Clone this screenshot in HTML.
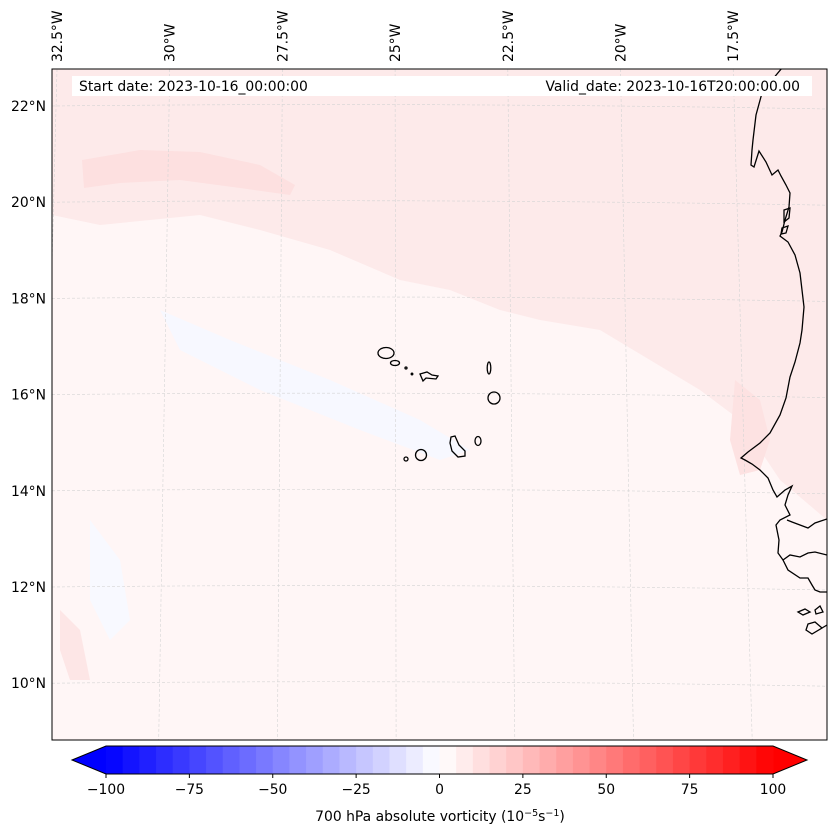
<!DOCTYPE html>
<html><head><meta charset="utf-8"><style>
body{margin:0;background:#fff;}
svg{display:block;font-family:"DejaVu Sans","Liberation Sans",sans-serif;}
</style></head><body>
<svg id="chart" width="837" height="839" viewBox="0 0 837 839" xmlns="http://www.w3.org/2000/svg">
<defs><clipPath id="mapclip"><rect x="52" y="69" width="775" height="671"/></clipPath></defs>
<g clip-path="url(#mapclip)">
  <rect x="52" y="69" width="775" height="671" fill="#fff6f6"/>
  <path fill="#fdeaea" d="M52,69 L827,69 L827,520 L780,480 L740,420 L700,390 L650,360 L600,330 L540,320 L500,310 L450,290 L400,280 L330,250 L260,230 L200,215 L150,220 L100,225 L52,215 Z"/>
  <path fill="#fff6f6" d="M170,225 L260,235 L330,260 L380,285 L420,300 L400,320 L330,300 L260,270 L200,255 L150,245 Z"/>
  <path fill="#fde0e0" d="M82,160 L140,150 L200,152 L260,165 L295,185 L290,195 L240,188 L180,180 L120,183 L84,188 Z"/>
  <path fill="#fde2e2" d="M735,380 L760,400 L770,440 L760,470 L740,475 L730,440 Z"/>
  <path fill="#f7f8ff" d="M160,310 L230,340 L330,380 L420,420 L470,450 L440,460 L360,430 L260,390 L180,350 Z"/>
  <path fill="#f8f9ff" d="M90,520 L120,560 L130,620 L110,640 L90,600 Z"/>
  <path fill="#fde6e6" d="M60,610 L80,630 L90,680 L70,680 L60,650 Z"/>
  <g id="grid" stroke="#d4d4d4" stroke-width="0.6" stroke-dasharray="3,2" fill="none"></g>
  <g stroke="#000" stroke-width="1.3" fill="none">
    <path d="M782,68 L772,80 L762,93 L756,115 L753,140 L752,150 L751,165 L754,167 L759,151 L766,162 L772,175 L778,170 L781,176 L786,185 L790,193 L789,207 L785,220 L782,232 L780,236 L788,242 L795,255 L800,273 L804,307 L802,330 L800,343 L795,362 L790,377 L786,398 L780,415 L770,433 L760,443 L748,452 L741,458 L745,460 L752,464 L760,470 L768,478 L773,490 L777,497 L785,490 L792,486 L788,495 L785,505 L790,515 L780,520 L776,525 L779,540 L778,553 L783,560 L790,555 L800,557 L808,553 L815,552 L827,555"/>
    <path d="M787,520 L792,522 L800,525 L808,528 L815,523 L827,519"/>
    <path d="M783,560 L788,570 L800,578 L808,578 L812,585 L815,590 L820,592 L827,592"/>
    <path d="M798,612 L805,609 L810,612 L803,615 Z M815,610 L820,606 L823,612 L816,614 Z M808,624 L815,622 L822,628 L812,634 L806,630 Z M822,628 L827,625"/>
    <path d="M784,210 L790,208 L789,218 L784,222 Z M782,228 L788,226 L786,233 L781,234 Z"/>
    <ellipse cx="386" cy="353" rx="8" ry="5.5"/>
    <ellipse cx="395" cy="363" rx="4.5" ry="2.5"/>
    <circle cx="406" cy="368" r="1"/>
    <circle cx="412" cy="374" r="0.8"/>
    <path d="M420,374 L427,372 L432,375 L438,376 L436,379 L426,378 L423,381 Z"/>
    <ellipse cx="489" cy="368" rx="1.8" ry="6"/>
    <ellipse cx="494" cy="398" rx="6" ry="6"/>
    <ellipse cx="478" cy="441" rx="3" ry="4.5"/>
    <path d="M451,437 L455,436 L459,445 L465,451 L465,456 L458,457 L452,451 L450,443 Z"/>
    <circle cx="421" cy="455" r="5.5"/>
    <circle cx="406" cy="459" r="2"/>
  </g>
  <rect x="72" y="76" width="740" height="20" fill="#fff"/>
  <text x="79" y="91" font-size="13.9">Start date: 2023-10-16_00:00:00</text>
  <text x="800" y="91" font-size="13.9" text-anchor="end">Valid_date: 2023-10-16T20:00:00.00</text>
</g>
<rect x="52" y="69" width="775" height="671" fill="none" stroke="#000" stroke-width="1"/>
<g id="axislabels" font-size="13.9" fill="#000"></g>
<g id="cbar"></g>
<text x="440" y="821" font-size="13.9" text-anchor="middle">700 hPa absolute vorticity (10<tspan font-size="9.5" dy="-5">−5</tspan><tspan dy="5">s</tspan><tspan font-size="9.5" dy="-5">−1</tspan><tspan dy="5">)</tspan></text>
</svg>
<script>
const lonLabels = ["32.5°W","30°W","27.5°W","25°W","22.5°W","20°W","17.5°W"];
const latLabels = ["22°N","20°N","18°N","16°N","14°N","12°N","10°N"];
const cbarTicks = [-100,-75,-50,-25,0,25,50,75,100];
const cbarLevelStep = 5;
const NS="http://www.w3.org/2000/svg";
function mk(t,a,p){const e=document.createElementNS(NS,t);for(const k in a)e.setAttribute(k,a[k]);p.appendChild(e);return e;}
const lonTop = i=>57+i*112.7, lonBot = i=>40+i*118.7;
const latY = i=>106+i*96.2;
const grid=document.getElementById('grid');
lonLabels.forEach((l,i)=>{const p=mk('path',{d:`M${lonTop(i)},69 L${lonBot(i)},740`},grid);

});
latLabels.forEach((l,i)=>{const y=latY(i);const p=mk('path',{d:`M52,${y} Q440,${y-4} 827,${y+3}`},grid);

});
const ax=document.getElementById('axislabels');
lonLabels.forEach((l,i)=>{const x=lonTop(i)+5;const t=mk('text',{x:0,y:0,transform:`translate(${x},62) rotate(-90)`},ax);t.textContent=l;

});
latLabels.forEach((l,i)=>{const t=mk('text',{x:46,y:latY(i)+5,'text-anchor':'end'},ax);t.textContent=l;

});
const cb=document.getElementById('cbar');
const vmin=cbarTicks[0], vmax=cbarTicks[cbarTicks.length-1];
const x0=106,x1=773,y0=746,y1=774;
const X=v=>x0+(v-vmin)/(vmax-vmin)*(x1-x0);
function bwr(v){const t=(v-vmin)/(vmax-vmin);let r,g,b;if(t<0.5){const s=t/0.5;r=s;g=s;b=1;}else{const s=(t-0.5)/0.5;r=1;g=1-s;b=1-s;}return `rgb(${Math.round(r*255)},${Math.round(g*255)},${Math.round(b*255)})`;}
const l=mk('polygon',{points:`${x0},${y0} ${x0},${y1} 72,${(y0+y1)/2}`,fill:bwr(vmin)},cb);


const r=mk('polygon',{points:`${x1},${y0} ${x1},${y1} 807,${(y0+y1)/2}`,fill:bwr(vmax)},cb);


for(let v=vmin;v<vmax;v+=cbarLevelStep){const s=mk('rect',{x:X(v),y:y0,width:X(v+cbarLevelStep)-X(v)+0.5,height:y1-y0,fill:bwr(v+cbarLevelStep/2)},cb);

}
const o=mk('polygon',{points:`72,${(y0+y1)/2} ${x0},${y0} ${x1},${y0} 807,${(y0+y1)/2} ${x1},${y1} ${x0},${y1}`,fill:'none',stroke:'#000','stroke-width':1},cb);


cbarTicks.forEach(v=>{const tk=mk('line',{x1:X(v),x2:X(v),y1:y1,y2:y1+4,stroke:'#000'},cb);


const t=mk('text',{x:X(v),y:y1+20,'font-size':13.9,'text-anchor':'middle'},cb);t.textContent=v<0?'−'+(-v):String(v);

});
</script>
</body></html>
